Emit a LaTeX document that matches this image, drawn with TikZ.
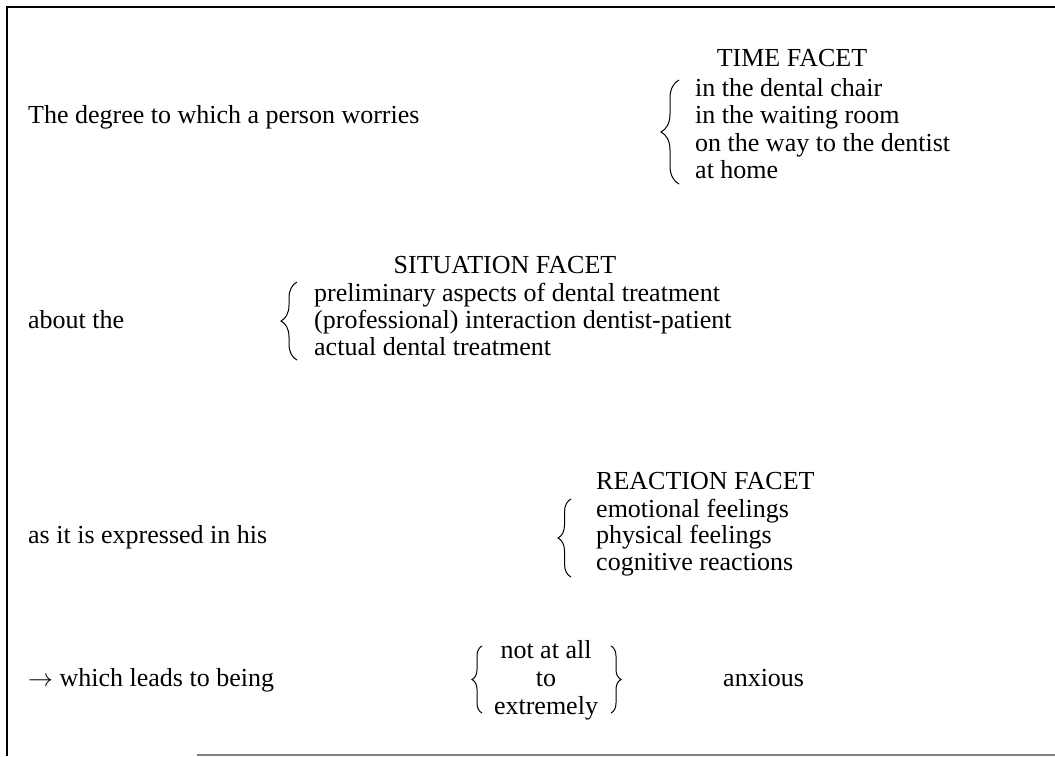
\documentclass[tikz,border=0pt]{standalone}
\usepackage{fontspec}
\setmainfont{Liberation Serif}
\usetikzlibrary{decorations.pathreplacing}
\begin{document}
\begin{tikzpicture}[x=1pt,y=-1pt,
  txt/.style={inner sep=0pt,anchor=base west,font=\fontsize{26}{28}\selectfont},
  ctxt/.style={inner sep=0pt,anchor=base,font=\fontsize{26}{28}\selectfont},
  curly/.style={decorate,decoration={brace,amplitude=#1},line width=1pt},
  frame/.style={line width=1.5pt}]
\useasboundingbox (0,0) rectangle (1055,756);
\fill[white] (0,0) rectangle (1055,756);
% frame
\draw[frame] (7,756) -- (7,7) -- (1055,7);
\draw[line width=1.5pt,gray] (197,755) -- (1055,755);
% time facet
\node[txt] (l1) at (28,123) {The degree to which a person worries};
\node[ctxt] (tf) at (792,66) {TIME FACET};
\node[txt] (t1) at (695,96) {in the dental chair};
\node[txt] (t2) at (695,123) {in the waiting room};
\node[txt] (t3) at (695,151) {on the way to the dentist};
\node[txt] (t4) at (695,178) {at home};
\draw[curly=18pt] (679,184) -- (679,80);
% situation facet
\node[txt] (l2) at (28,328) {about the};
\node[ctxt] (sf) at (505,273) {SITUATION FACET};
\node[txt] (s1) at (314,301) {preliminary aspects of dental treatment};
\node[txt] (s2) at (314,328) {(professional) interaction dentist-patient};
\node[txt] (s3) at (314,355) {actual dental treatment};
\draw[curly=16pt] (297,360) -- (297,282);
% reaction facet
\node[txt] (l3) at (28,543) {as it is expressed in his};
\node[txt] (rf) at (596,489) {REACTION FACET};
\node[txt] (r1) at (596,517) {emotional feelings};
\node[txt] (r2) at (596,543) {physical feelings};
\node[txt] (r3) at (596,570) {cognitive reactions};
\draw[curly=13pt] (571,577) -- (571,499);
% bottom
\node[txt] (l4) at (28,686) {$\rightarrow$ which leads to being};
\node[ctxt] (b1) at (546,658) {not at all};
\node[ctxt] (b2) at (546,686) {to};
\node[ctxt] (b3) at (546,714) {extremely};
\draw[curly=10pt] (482,713) -- (482,646);
\draw[curly=10pt] (611,646) -- (611,713);
\node[txt] (an) at (723,686) {anxious};
\end{tikzpicture}
\end{document}
